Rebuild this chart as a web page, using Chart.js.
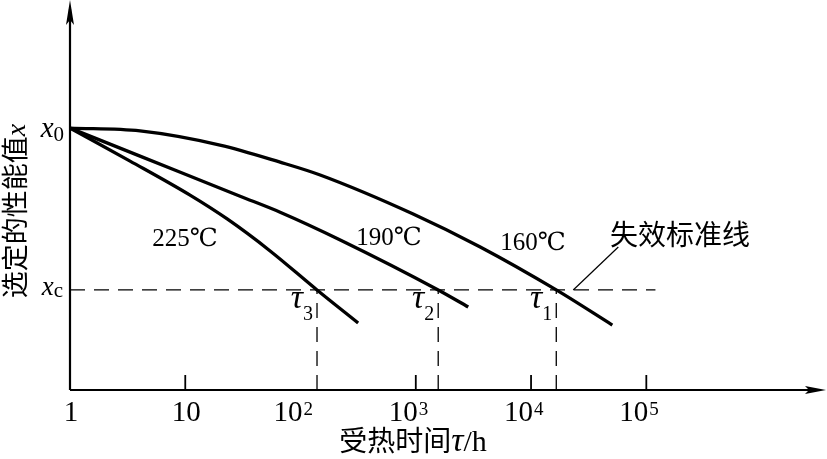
<!DOCTYPE html>
<html>
<head>
<meta charset="utf-8">
<script src="https://cdn.jsdelivr.net/npm/chart.js@4.4.1/dist/chart.umd.min.js"></script>
<style>
  html, body { margin: 0; padding: 0; background: #fff; }
  canvas { display: block; }
</style>
</head>
<body>
<canvas id="chart" width="827" height="459"></canvas>
<script>
// values: x = heating time in h (log), y = property value relative to x0 = 1
const x160 = [1, 4.05, 20, 66.5, 148, 949, 3624, 16550, 50700];
const y160 = [1, 0.989, 0.935, 0.870, 0.821, 0.672, 0.546, 0.382, 0.248];
const x190 = [1, 4.05, 29.9, 66.5, 221, 1565, 2851];
const y190 = [1, 0.893, 0.740, 0.679, 0.573, 0.382, 0.317];
const x225 = [1, 3.32, 11.0, 23.1, 54.5, 139, 316];
const y225 = [1, 0.874, 0.744, 0.653, 0.531, 0.382, 0.256];
const curveLabels = ['160℃', '190℃', '225℃'];
const tauValues = [16550, 1565, 139];   // τ1, τ2, τ3
const tauNames = ['1', '2', '3'];
const x0Value = 1;
const xcValue = 0.382;
const xcLineEnd = 1.2e5;
const leaderX = [23230, 57150];
const leaderY = [0.382, 0.546];
const tickValues = [1, 10, 100, 1000, 10000, 100000];
const tickBase = ['1', '10', '10', '10', '10', '10'];
const tickExp = ['', '', '2', '3', '4', '5'];
const tickMarks = [10, 1000, 10000, 100000];

const SERIF = "'Liberation Serif', 'DejaVu Serif', serif";
const CJK = "'Noto Sans CJK SC', sans-serif";

const pts = (xs, ys) => xs.map((v, i) => ({ x: v, y: ys[i] }));
const curve = (data) => ({
  data, borderColor: '#000', borderWidth: 3.3, pointRadius: 0, showLine: true,
  cubicInterpolationMode: 'monotone', fill: false
});
const dashed = (data) => ({
  data, borderColor: '#000', borderWidth: 1.3, borderDash: [15, 9], pointRadius: 0,
  showLine: true, tension: 0, fill: false
});

// draw a row of text pieces with their own fonts
function drawRuns(ctx, runs, x, y, align) {
  let total = 0;
  runs.forEach(r => { ctx.font = r.f; r.w = ctx.measureText(r.t).width; total += r.w; });
  let cx = align === 'right' ? x - total : align === 'center' ? x - total / 2 : x;
  ctx.textAlign = 'left';
  ctx.textBaseline = 'alphabetic';
  runs.forEach(r => { ctx.font = r.f; ctx.fillText(r.t, cx, y + (r.dy || 0)); cx += r.w; });
}

const drawing = {
  id: 'drawing',
  afterDraw(chart) {
    const { ctx, chartArea: a, scales: { x, y } } = chart;
    ctx.save();
    ctx.strokeStyle = '#000';
    ctx.fillStyle = '#000';

    // axes
    ctx.lineWidth = 2.2;
    ctx.beginPath();
    ctx.moveTo(a.left, a.bottom); ctx.lineTo(a.right - 6, a.bottom);
    ctx.moveTo(a.left, a.bottom); ctx.lineTo(a.left, a.top + 4);
    ctx.stroke();
    // arrow heads
    ctx.beginPath();
    ctx.moveTo(a.left, a.top - 5);
    ctx.lineTo(a.left - 4, a.top + 20);
    ctx.lineTo(a.left, a.top + 15);
    ctx.lineTo(a.left + 4, a.top + 20);
    ctx.closePath(); ctx.fill();
    ctx.beginPath();
    ctx.moveTo(a.right + 1, a.bottom);
    ctx.lineTo(a.right - 20, a.bottom - 4);
    ctx.lineTo(a.right - 16, a.bottom);
    ctx.lineTo(a.right - 20, a.bottom + 4);
    ctx.closePath(); ctx.fill();

    // tick marks
    ctx.lineWidth = 1.8;
    tickMarks.forEach(v => {
      const px = x.getPixelForValue(v);
      ctx.beginPath(); ctx.moveTo(px, a.bottom); ctx.lineTo(px, a.bottom - 15); ctx.stroke();
    });

    // tick labels
    tickValues.forEach((v, i) => {
      const px = x.getPixelForValue(v);
      if (!tickExp[i]) {
        ctx.font = '29px ' + SERIF; ctx.textAlign = 'center'; ctx.textBaseline = 'alphabetic';
        ctx.fillText(tickBase[i], px + 1, 421);
      } else {
        ctx.font = '29px ' + SERIF; ctx.textAlign = 'right'; ctx.textBaseline = 'alphabetic';
        ctx.fillText(tickBase[i], px + 2, 421);
        ctx.font = '19px ' + SERIF; ctx.textAlign = 'left';
        ctx.fillText(tickExp[i], px + 3, 415);
      }
    });

    // x0 / xc labels
    drawRuns(ctx, [{ t: 'x', f: 'italic 29px ' + SERIF }, { t: '0', f: '21px ' + SERIF, dy: 4 }],
      a.left - 6, y.getPixelForValue(x0Value) + 9, 'right');
    drawRuns(ctx, [{ t: 'x', f: 'italic 27px ' + SERIF }, { t: 'c', f: '21px ' + SERIF, dy: 2 }],
      a.left - 7, y.getPixelForValue(xcValue) + 5, 'right');

    // τ labels
    tauValues.forEach((t, i) => {
      drawRuns(ctx, [{ t: 'τ', f: 'italic 34px ' + SERIF }, { t: tauNames[i], f: '20px ' + SERIF, dy: 12 }],
        x.getPixelForValue(t) - 4, y.getPixelForValue(xcValue) + 18, 'right');
    });

    // curve labels
    ctx.font = '25px ' + SERIF; ctx.textAlign = 'center'; ctx.textBaseline = 'alphabetic';
    ctx.fillText(curveLabels[0], 533, 250);
    ctx.fillText(curveLabels[1], 389, 245);
    ctx.fillText(curveLabels[2], 185, 246);

    // failure criterion label
    ctx.font = '28px ' + CJK; ctx.textAlign = 'center'; ctx.textBaseline = 'middle';
    ctx.fillText('失效标准线', 680, 234);

    // x axis title
    drawRuns(ctx, [
      { t: '受热时间', f: '28px ' + CJK },
      { t: 'τ', f: 'italic 34px ' + SERIF },
      { t: '/h', f: '30px ' + SERIF }
    ], 413, 451, 'center');

    // y axis title
    ctx.translate(25, 211);
    ctx.rotate(-Math.PI / 2);
    drawRuns(ctx, [
      { t: '选定的性能值', f: '27px ' + CJK },
      { t: 'x', f: 'italic 28px ' + SERIF }
    ], 0, 0, 'center');

    ctx.restore();
  }
};

new Chart(document.getElementById('chart'), {
  type: 'scatter',
  data: {
    datasets: [
      curve(pts(x160, y160)),
      curve(pts(x190, y190)),
      curve(pts(x225, y225)),
      dashed([{ x: 1, y: xcValue }, { x: xcLineEnd, y: xcValue }]),
      ...tauValues.map(t => dashed([{ x: t, y: 0 }, { x: t, y: xcValue }])),
      { data: pts(leaderX, leaderY), borderColor: '#000', borderWidth: 1.2, pointRadius: 0, showLine: true, fill: false }
    ]
  },
  options: {
    responsive: false,
    animation: false,
    devicePixelRatio: 1,
    layout: { padding: { left: 70, right: 2, top: 5, bottom: 69 } },
    plugins: { legend: { display: false }, tooltip: { enabled: false } },
    scales: {
      x: { type: 'logarithmic', min: 1, max: 3.55e6, display: false },
      y: { type: 'linear', min: 0, max: 1.47, display: false }
    }
  },
  plugins: [drawing]
});
</script>
</body>
</html>
